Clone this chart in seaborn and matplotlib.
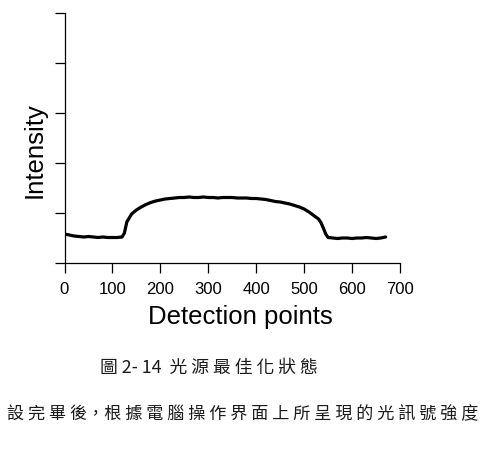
import numpy as np
import pandas as pd
import seaborn as sns
import matplotlib.pyplot as plt

# Values (y axis has no labels, ticks at 0..5)
detection_points = [0, 10, 20, 30, 40, 50, 60, 70, 80, 90, 100, 110, 120, 125,
                    130, 140, 150, 160, 170, 180, 190, 200, 210, 220, 230, 240,
                    250, 260, 270, 280, 290, 300, 310, 320, 330, 340, 350, 360, 370, 380,
                    390, 400, 410, 420, 430, 440, 450, 460, 470, 480, 490, 500, 510, 520, 530,
                    535, 540, 545, 550,
                    560, 570, 580, 590, 600, 610, 620, 630, 640, 650, 660, 670]
intensity = [0.58, 0.56, 0.54, 0.53, 0.52, 0.53, 0.52, 0.51, 0.52, 0.51, 0.51, 0.51, 0.52, 0.60,
             0.82, 0.98, 1.06, 1.12, 1.17, 1.21, 1.24, 1.26, 1.28, 1.29, 1.30, 1.31,
             1.31, 1.32, 1.31, 1.31, 1.32, 1.31, 1.31, 1.30, 1.31, 1.31, 1.31, 1.30, 1.30, 1.30,
             1.29, 1.29, 1.28, 1.27, 1.25, 1.23, 1.22, 1.20, 1.18, 1.15, 1.12, 1.08, 1.02, 0.95, 0.88,
             0.81, 0.70, 0.58, 0.51,
             0.50, 0.49, 0.50, 0.50, 0.49, 0.50, 0.50, 0.51, 0.50, 0.49, 0.50, 0.52]
x_ticks = [0, 100, 200, 300, 400, 500, 600, 700]
y_ticks = [0, 1, 2, 3, 4, 5]

caption = "圖 2- 14  光 源 最 佳 化 狀 態"
body_line = "設 完 畢 後，根 據 電 腦 操 作 界 面 上 所 呈 現 的 光 訊 號 強 度"

df = pd.DataFrame({"points": detection_points, "intensity": intensity})

sns.set_style("ticks")
plt.rcParams['font.family'] = ['Liberation Sans', 'DejaVu Sans']
plt.rcParams['text.color'] = 'black'
plt.rcParams['xtick.color'] = 'black'
plt.rcParams['ytick.color'] = 'black'
plt.rcParams['axes.labelcolor'] = 'black'

fig = plt.figure(figsize=(4.93, 4.54), dpi=100)
ax = fig.add_axes([64.5 / 493, 191 / 454, 335.5 / 493, 250 / 454])

sns.lineplot(data=df, x="points", y="intensity", ax=ax, color="black", linewidth=2.3)

ax.set_xlim(0, 700)
ax.set_ylim(0, 5)
ax.set_xticks(x_ticks)
ax.set_yticks(y_ticks)
ax.set_yticklabels([])
ax.tick_params(axis="both", direction="out", length=7.5, width=0.9, colors="black",
               labelsize=12, pad=6)
sns.despine(ax=ax)
for side in ["left", "bottom"]:
    ax.spines[side].set_linewidth(0.9)
    ax.spines[side].set_color("black")

ax.set_xlabel("Detection points", fontsize=18.5)
ax.xaxis.set_label_coords(0.525, -0.216)
ax.xaxis.label.set_verticalalignment("center")
ax.set_ylabel("Intensity", fontsize=18.5)
ax.yaxis.set_label_coords(-0.088, 0.452)
ax.yaxis.label.set_verticalalignment("center")

cjk = ['Noto Sans CJK TC', 'DejaVu Sans']
fig.text(100 / 493, 1 - 368 / 454, caption, family=cjk, fontsize=12.8,
         ha="left", va="center", color="#1a1a1a")
fig.text(7 / 493, 1 - 413 / 454, body_line, family=cjk, fontsize=12.3,
         ha="left", va="center", color="#1a1a1a")

fig.savefig("out.png", dpi=100)
